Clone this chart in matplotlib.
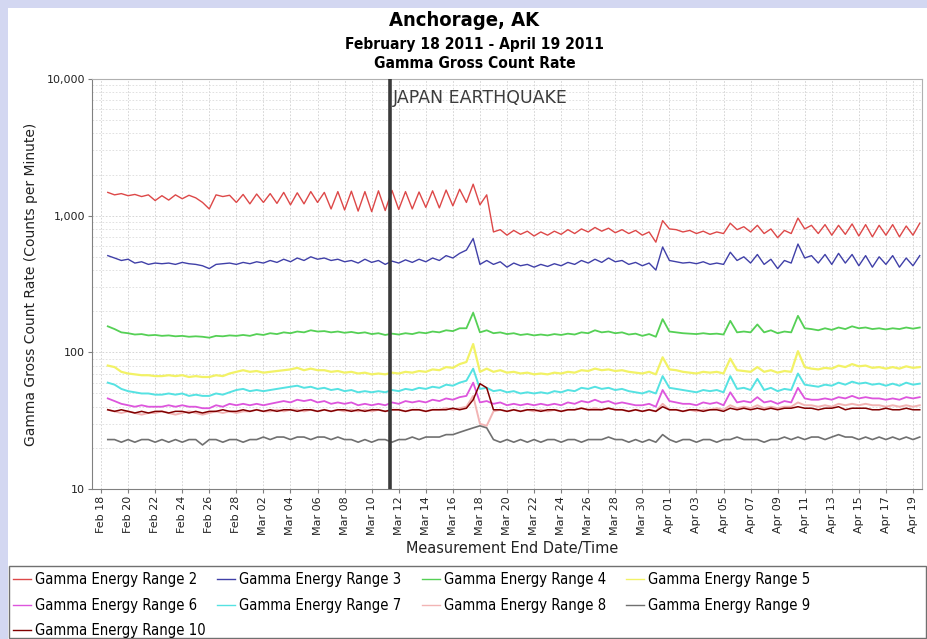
import matplotlib
matplotlib.use('Agg')
import matplotlib.pyplot as plt
import matplotlib.dates as mdates
from matplotlib.ticker import FixedLocator, FixedFormatter, LogLocator, NullFormatter
from matplotlib.patches import Rectangle
from matplotlib import font_manager
import pandas as pd

# ---------------- data ----------------
title = "Anchorage, AK"
subtitle1 = "February 18 2011 - April 19 2011"
subtitle2 = "Gamma Gross Count Rate"
x_label = "Measurement End Date/Time"
y_label = "Gamma Gross Count Rate (Counts per Minute)"
quake_time = "2011-03-11 08:40"
quake_label = "JAPAN EARTHQUAKE"

start_time = "2011-02-18 12:00"
step = "12h"

range2 = [1480, 1420, 1450, 1400, 1430, 1380, 1420, 1290,
          1400, 1300, 1420, 1330, 1410, 1350, 1250, 1120,
          1420, 1380, 1410, 1250, 1430, 1220, 1440, 1250,
          1450, 1230, 1480, 1200, 1470, 1220, 1500, 1250,
          1480, 1120, 1500, 1100, 1510, 1080, 1500, 1070,
          1520, 1090, 1530, 1110, 1500, 1120, 1490, 1150,
          1520, 1140, 1540, 1180, 1560, 1250, 1700, 1200,
          1420, 760, 790, 720, 780, 730, 770, 710,
          760, 720, 770, 730, 790, 740, 800, 760,
          820, 770, 810, 750, 790, 740, 780, 720,
          760, 640, 920, 800, 790, 760, 780, 740,
          770, 730, 760, 740, 880, 790, 830, 760,
          850, 740, 800, 690, 780, 740, 960, 800,
          850, 740, 860, 720, 850, 730, 870, 710,
          860, 700, 850, 720, 860, 700, 840, 720,
          880]
range3 = [510, 490, 470, 480, 450, 460, 440, 450,
          445, 450, 440, 455, 445, 440, 430, 410,
          440, 445, 450, 440, 455, 445, 460, 450,
          470, 455, 480, 460, 490, 470, 500, 480,
          490, 470, 480, 460, 470, 450, 480, 455,
          470, 440, 465, 450, 475, 455, 480, 460,
          490, 470, 510, 490, 530, 560, 680, 440,
          470, 440, 460, 420, 450, 430, 440, 420,
          440, 425, 445, 430, 455, 440, 470, 450,
          480, 455, 490, 460, 470, 440, 455, 430,
          450, 400, 590, 470, 460, 450, 455, 445,
          460, 440, 450, 440, 540, 470, 500, 450,
          520, 440, 480, 410, 470, 450, 620, 490,
          510, 450, 520, 440, 530, 450, 520, 430,
          510, 420, 500, 440, 510, 420, 490, 430,
          510]
range4 = [155, 148, 140, 138, 135, 136, 133, 134,
          132, 133, 131, 132, 130, 131, 130, 128,
          132, 131, 133, 132, 134, 132, 136, 134,
          138, 136, 140, 138, 142, 140, 145, 142,
          143, 140, 142, 139, 141, 138, 140, 136,
          138, 134, 137, 135, 138, 136, 140, 138,
          142, 140, 145, 143, 150, 150, 195, 140,
          145, 138, 140, 136, 138, 134, 136, 133,
          135, 133, 136, 134, 137, 135, 140, 138,
          145, 140, 142, 138, 140, 135, 137, 132,
          136, 130, 175, 142, 140, 138, 137, 136,
          138, 136, 137, 135, 170, 140, 142, 140,
          160, 140, 145, 138, 142, 140, 185, 150,
          148, 145, 150, 146, 152, 148, 155, 150,
          152, 148, 150, 147, 150, 148, 152, 149,
          152]
range5 = [80, 78, 72, 70, 69, 68, 68, 67,
          67, 68, 67, 68, 66, 67, 66, 66,
          68, 67, 70, 72, 74, 72, 73, 71,
          72, 73, 74, 75, 77, 74, 76, 74,
          74, 72, 73, 71, 72, 70, 71, 69,
          70, 69, 71, 70, 72, 71, 73, 72,
          75, 74, 78, 77, 82, 85, 115, 72,
          76, 72, 74, 71, 72, 70, 71, 69,
          70, 69, 71, 70, 72, 71, 74, 73,
          76, 74, 75, 73, 74, 72, 71, 70,
          72, 69, 92, 75, 74, 72, 71, 70,
          72, 71, 72, 70, 90, 74, 73, 72,
          78, 72, 74, 71, 73, 72, 102, 78,
          76, 75, 77, 76, 80, 78, 82, 79,
          80, 77, 78, 76, 78, 76, 79, 77,
          78]
range6 = [46, 44, 42, 41, 40, 41, 40, 40,
          40, 41, 40, 41, 40, 40, 39, 39,
          41, 40, 42, 41, 42, 41, 42, 41,
          42, 43, 44, 43, 45, 44, 45, 43,
          44, 42, 43, 42, 43, 41, 42, 41,
          42, 41, 43, 42, 44, 43, 44, 43,
          45, 44, 46, 45, 47, 48, 60, 43,
          44, 42, 43, 41, 42, 41, 42, 41,
          42, 41, 42, 41, 43, 42, 44, 43,
          45, 43, 44, 42, 43, 42, 41, 41,
          42, 40, 53, 44, 43, 42, 42, 41,
          43, 42, 43, 41, 51, 43, 44, 43,
          47, 43, 44, 42, 44, 43, 55, 46,
          45, 45, 46, 45, 47, 46, 48, 46,
          47, 46, 46, 45, 46, 45, 47, 46,
          47]
range7 = [60, 58, 54, 52, 51, 50, 50, 49,
          49, 50, 49, 50, 48, 49, 48, 48,
          50, 49, 51, 53, 54, 52, 53, 52,
          53, 54, 55, 56, 57, 55, 56, 54,
          55, 53, 54, 52, 53, 51, 52, 51,
          52, 51, 53, 52, 54, 53, 55, 54,
          56, 55, 58, 57, 60, 62, 76, 54,
          55, 52, 53, 51, 52, 50, 51, 50,
          51, 50, 52, 51, 53, 52, 55, 54,
          56, 54, 55, 53, 54, 52, 51, 50,
          52, 50, 67, 55, 54, 53, 52, 51,
          53, 52, 53, 51, 67, 54, 55, 53,
          64, 53, 55, 52, 54, 53, 70, 58,
          57, 56, 58, 57, 60, 58, 61, 59,
          60, 58, 59, 57, 59, 57, 60, 58,
          59]
range8 = [38, 37, 36, 37, 36, 35, 36, 36,
          37, 36, 35, 36, 37, 36, 35, 36,
          37, 36, 37, 36, 37, 37, 38, 37,
          37, 38, 37, 38, 38, 37, 38, 37,
          38, 37, 38, 37, 38, 37, 38, 37,
          38, 37, 38, 38, 37, 38, 38, 37,
          38, 38, 39, 38, 39, 40, 48, 30,
          29, 37, 38, 37, 38, 37, 38, 37,
          38, 37, 38, 37, 38, 38, 39, 38,
          39, 38, 39, 38, 38, 37, 38, 37,
          38, 37, 42, 38, 38, 37, 38, 37,
          38, 38, 39, 38, 41, 39, 40, 39,
          41, 39, 40, 39, 40, 40, 43, 41,
          41, 40, 41, 40, 42, 41, 42, 41,
          42, 41, 41, 40, 41, 40, 41, 40,
          41]
range9 = [23, 23, 22, 23, 22, 23, 23, 22,
          23, 22, 23, 22, 23, 23, 21, 23,
          23, 22, 23, 23, 22, 23, 23, 24,
          23, 24, 24, 23, 24, 24, 23, 24,
          24, 23, 24, 23, 23, 22, 23, 22,
          23, 23, 22, 23, 23, 24, 23, 24,
          24, 24, 25, 25, 26, 27, 28, 29,
          28, 23, 22, 23, 22, 23, 22, 23,
          22, 23, 23, 22, 23, 23, 22, 23,
          23, 23, 24, 23, 23, 22, 23, 22,
          23, 22, 25, 23, 22, 23, 23, 22,
          23, 23, 22, 23, 23, 24, 23, 23,
          23, 22, 23, 23, 24, 23, 24, 23,
          24, 24, 23, 24, 25, 24, 24, 23,
          24, 23, 24, 23, 24, 23, 24, 23,
          24]
range10 = [38, 37, 38, 37, 36, 37, 36, 37,
           37, 36, 37, 37, 36, 37, 36, 37,
           37, 38, 37, 37, 38, 37, 38, 37,
           38, 37, 38, 38, 37, 38, 38, 37,
           38, 37, 38, 38, 37, 38, 37, 38,
           38, 37, 38, 38, 37, 38, 38, 37,
           38, 38, 38, 39, 38, 39, 45, 59,
           55, 38, 38, 37, 38, 37, 38, 38,
           37, 38, 38, 37, 38, 38, 39, 38,
           38, 38, 39, 38, 38, 37, 38, 37,
           38, 37, 40, 38, 38, 37, 38, 38,
           37, 38, 38, 37, 39, 38, 39, 38,
           39, 38, 39, 38, 39, 39, 40, 39,
           39, 38, 39, 39, 40, 38, 39, 39,
           39, 38, 38, 39, 38, 38, 39, 38,
           38]

series_names = ["Gamma Energy Range 2", "Gamma Energy Range 3", "Gamma Energy Range 4",
                "Gamma Energy Range 5", "Gamma Energy Range 6", "Gamma Energy Range 7",
                "Gamma Energy Range 8", "Gamma Energy Range 9", "Gamma Energy Range 10"]
series_values = [range2, range3, range4, range5, range6, range7, range8, range9, range10]
series_colors = ["#dd4848", "#4040a8", "#55d055", "#f2f266", "#dd55dd",
                 "#55e2e2", "#f2b4b4", "#707070", "#800000"]
series_widths = [1.0, 1.0, 1.3, 1.6, 1.3, 1.4, 1.4, 1.2, 1.1]

y_ticks = [10, 100, 1000, 10000]
y_tick_labels = ["10", "100", "1,000", "10,000"]

# condensed font for headings / legend
cond = font_manager.FontProperties(family="DejaVu Sans", stretch="condensed")
cond_bold = font_manager.FontProperties(family="DejaVu Sans", stretch="condensed", weight="bold")

# ---------------- figure ----------------
W, H = 927, 639
fig = plt.figure(figsize=(W / 100, H / 100), dpi=100, facecolor="#d3d7f1")
fig.patches.append(Rectangle((8 / W, 0), 1 - 8 / W, 1 - 8 / H, transform=fig.transFigure,
                             facecolor="white", edgecolor="none", zorder=-10))
fig.patches.append(Rectangle((8.5 / W, 1 / H), (926 - 8.5) / W, (638 - 566) / H,
                             transform=fig.transFigure, facecolor="none",
                             edgecolor="#707070", lw=1.0, zorder=-5))

ax = fig.add_axes([92 / W, 1 - 489 / H, 830 / W, 410 / H])
ax.set_facecolor("white")

times = pd.date_range(start_time, periods=len(range2), freq=step)
handles = []
for name, vals, col, lw in zip(series_names, series_values, series_colors, series_widths):
    h, = ax.plot(times, vals, color=col, lw=lw, label=name)
    handles.append(h)

ax.set_yscale("log")
ax.set_ylim(10, 10000)
t0 = pd.Timestamp("2011-02-18")
t1 = pd.Timestamp("2011-04-19")
ax.set_xlim(t0 - pd.Timedelta(hours=16), t1 + pd.Timedelta(hours=16))

ax.yaxis.set_major_locator(FixedLocator(y_ticks))
ax.yaxis.set_major_formatter(FixedFormatter(y_tick_labels))
ax.yaxis.set_minor_locator(LogLocator(base=10, subs=range(2, 10)))
ax.yaxis.set_minor_formatter(NullFormatter())

ax.xaxis.set_major_locator(FixedLocator(mdates.date2num(pd.date_range(t0, t1, freq="2D"))))
ax.xaxis.set_major_formatter(mdates.DateFormatter("%b %d"))

ax.tick_params(axis="both", which="major", direction="out", length=3, width=0.8,
               color="#808080", labelsize=8, labelcolor="#222222", pad=2)
ax.tick_params(axis="y", which="minor", length=0)
plt.setp(ax.get_xticklabels(), rotation=90, fontsize=8)

ax.grid(True, which="major", axis="both", color="#cfcfcf", lw=0.6, ls=(0, (2, 2)))
ax.grid(True, which="minor", axis="y", color="#dcdcdc", lw=0.6, ls=(0, (2, 2)))
ax.set_axisbelow(True)
for side in ["top", "right"]:
    ax.spines[side].set_color("#b0b0b0")
    ax.spines[side].set_linewidth(0.8)
for side in ["left", "bottom"]:
    ax.spines[side].set_color("#808080")
    ax.spines[side].set_linewidth(0.8)

# earthquake marker
qt = pd.Timestamp(quake_time)
ax.axvline(qt, color="#3a3a3a", lw=2.6, zorder=5)
ax.text(qt + pd.Timedelta(hours=5), 7200, quake_label, fontsize=12.5, color="#3c3c3c",
        ha="left", va="center", zorder=6)

fig.text(464 / W, 1 - 20 / H, title, ha="center", va="center", fontproperties=cond_bold,
         fontsize=14.5)
fig.text(474 / W, 1 - 45 / H, subtitle1, ha="center", va="center",
         fontproperties=cond_bold, fontsize=11.2)
fig.text(475 / W, 1 - 64 / H, subtitle2, ha="center", va="center",
         fontproperties=cond_bold, fontsize=11.2)
fig.text(512 / W, 1 - 548 / H, x_label, ha="center", va="center", fontproperties=cond,
         fontsize=11.6, color="#222222")
fig.text(31 / W, 1 - 284 / H, y_label, ha="center", va="center", fontsize=10,
         rotation=90, color="#222222")

# legend: first two rows (row-major with ncol=4), then the last entry
leg_size = 10.6
leg_px = leg_size * 100 / 72
leg_font = font_manager.FontProperties(family="DejaVu Sans", stretch="condensed", size=leg_size)
order = [0, 4, 1, 5, 2, 6, 3, 7]
common = dict(loc="upper left", frameon=False, prop=leg_font,
              handlelength=18 / leg_px, handletextpad=4 / leg_px,
              labelspacing=(25.5 / leg_px) - 1.0, borderaxespad=0, borderpad=0)
leg1 = fig.legend([handles[i] for i in order], [series_names[i] for i in order],
                  bbox_to_anchor=(13 / W, 1 - 572 / H), ncol=4,
                  columnspacing=20 / leg_px, **common)
leg2 = fig.legend([handles[8]], [series_names[8]],
                  bbox_to_anchor=(13 / W, 1 - 623 / H), ncol=1, **common)
for lg in (leg1, leg2):
    for lh in lg.get_lines():
        lh.set_linewidth(1.0)

fig.savefig("out.png", dpi=100, facecolor=fig.get_facecolor())
